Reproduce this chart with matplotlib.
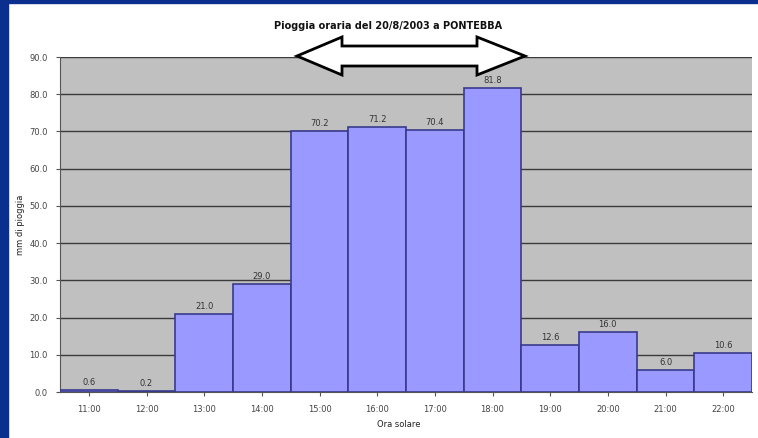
import matplotlib
matplotlib.use("Agg")
import matplotlib.pyplot as plt
from matplotlib.patches import Rectangle, Polygon

# Hourly rain data
ore = ["11:00", "12:00", "13:00", "14:00", "15:00", "16:00",
       "17:00", "18:00", "19:00", "20:00", "21:00", "22:00"]
pioggia = [0.6, 0.2, 21.0, 29.0, 70.2, 71.2, 70.4, 81.8, 12.6, 16.0, 6.0, 10.6]
yticks = [0, 10, 20, 30, 40, 50, 60, 70, 80, 90]

W, H = 758, 438
fig = plt.figure(figsize=(W / 100, H / 100), dpi=100)
fig.patch.set_facecolor("white")

# navy slide border (left and top)
fig.patches.append(Rectangle((0, 0), 8 / W, 1, transform=fig.transFigure,
                             color="#0b2f8e", zorder=0))
fig.patches.append(Rectangle((0, 1 - 3 / H), 1, 3 / H, transform=fig.transFigure,
                             color="#0b2f8e", zorder=0))

ax = fig.add_axes([60 / W, (H - 392) / H, (752 - 60) / W, (392 - 57) / H])
ax.set_facecolor("#c0c0c0")

x = list(range(len(ore)))
ax.bar(x, pioggia, width=1.0, color="#9999ff", edgecolor="#3a3a8c",
       linewidth=1.2, zorder=3)

for xi, v in zip(x, pioggia):
    ax.text(xi, v + 0.8, f"{v:.1f}", ha="center", va="bottom",
            fontsize=6, color="#333333", zorder=4)

ax.set_xlim(-0.5, len(ore) - 0.5)
ax.set_ylim(0, 90)
ax.set_yticks(yticks)
ax.set_yticklabels([f"{t:.1f}" for t in yticks], fontsize=6, color="#444444")
ax.set_xticks(x)
ax.set_xticklabels(ore, fontsize=6, color="#444444")
ax.tick_params(axis="both", length=3, color="#555555", pad=6)
ax.grid(axis="y", color="#3a3a3a", linewidth=1.0, zorder=1)
ax.set_axisbelow(True)
for s in ["top", "right"]:
    ax.spines[s].set_visible(False)
for s in ["left", "bottom"]:
    ax.spines[s].set_color("#555555")

ax.set_ylabel("mm di pioggia", fontsize=6, color="#222222")
ax.yaxis.set_label_coords(-0.05, 0.5)
ax.set_xlabel("Ora solare", fontsize=6, color="#222222")
ax.xaxis.set_label_coords(0.49, -0.085)

fig.text(388 / W, 1 - 26 / H, "Pioggia oraria del 20/8/2003 a PONTEBBA",
         ha="center", va="center", fontsize=7, fontweight="bold", color="#111111")

# double-headed arrow drawn in figure pixel coordinates
px = [(297, 56), (342, 37), (342, 46), (477, 46), (477, 37), (525, 56),
      (477, 75), (477, 66), (342, 66), (342, 75)]
pts = [(a / W, 1 - b / H) for a, b in px]
fig.patches.append(Polygon(pts, closed=True, transform=fig.transFigure,
                           facecolor="white", edgecolor="black", linewidth=2,
                           zorder=10))

fig.savefig("out.png", dpi=100)
